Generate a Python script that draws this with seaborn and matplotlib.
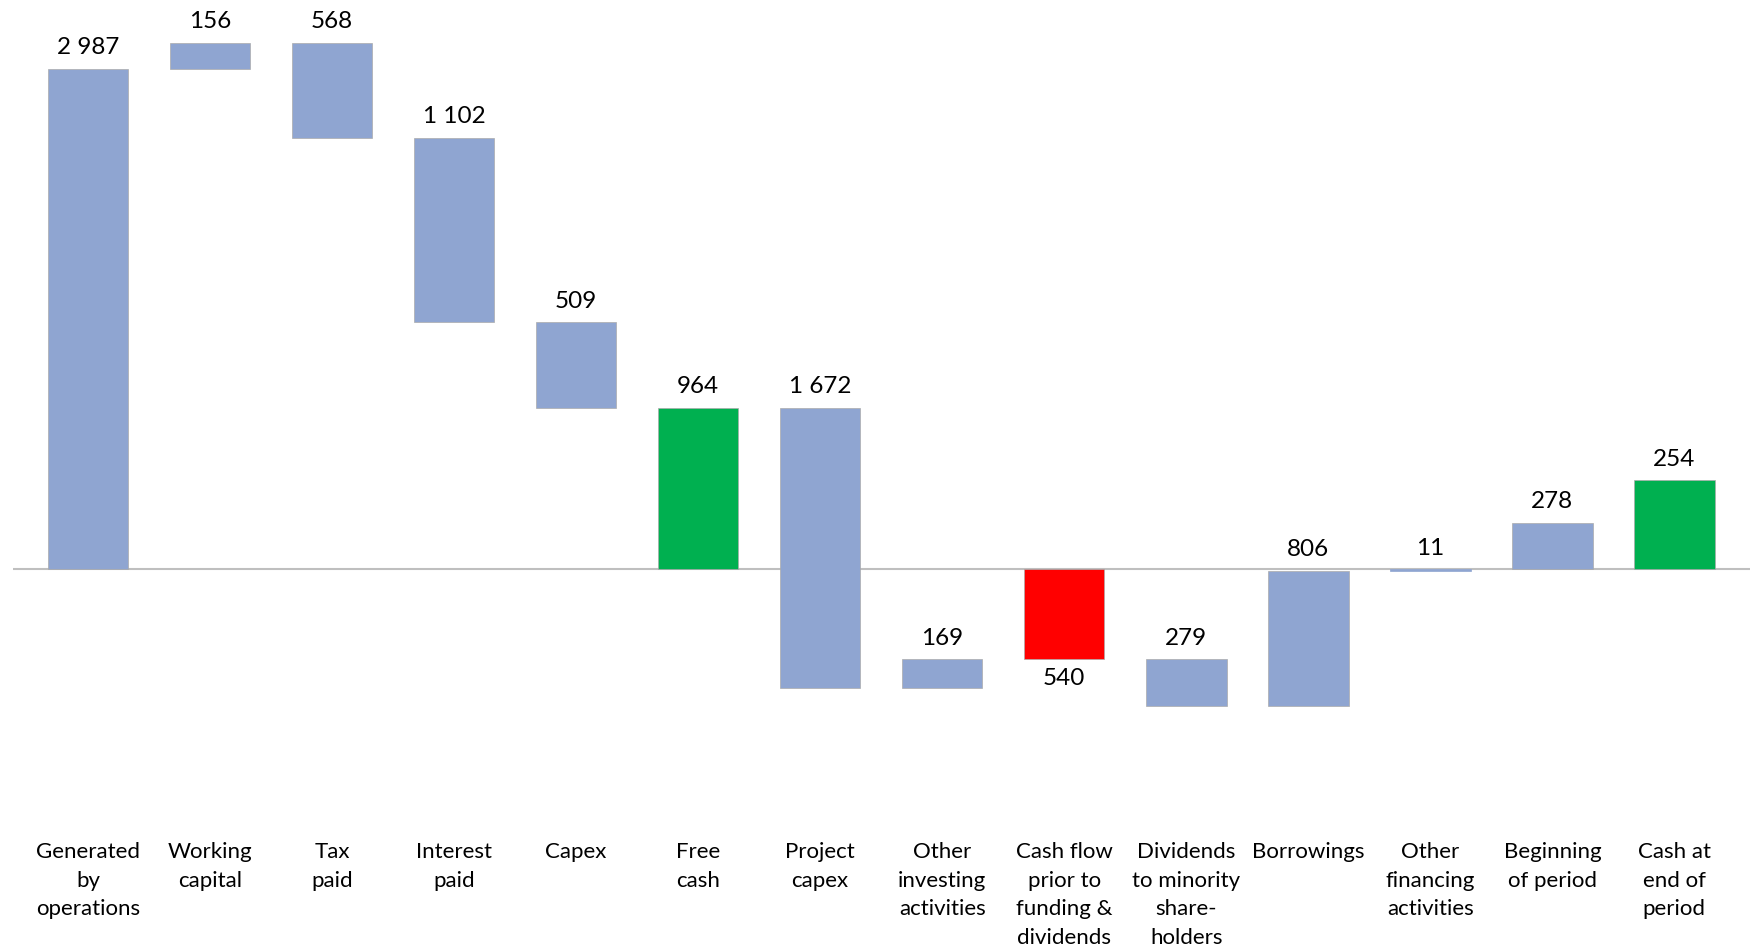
import matplotlib
matplotlib.use("Agg")
import matplotlib.pyplot as plt
import numpy as np
import pandas as pd
import seaborn as sns

# cash flow bridge, values as printed on the bars
categories = [
    "Generated\nby\noperations", "Working\ncapital", "Tax\npaid", "Interest\npaid",
    "Capex", "Free\ncash", "Project\ncapex", "Other\ninvesting\nactivities",
    "Cash flow\nprior to\nfunding &\ndividends", "Dividends\nto minority\nshare-\nholders",
    "Borrowings", "Other\nfinancing\nactivities", "Beginning\nof period", "Cash at\nend of\nperiod",
]
amounts = [2987, 156, 568, 1102, 509, 964, 1672, 169, 540, 279, 806, 11, 278, 254]
signs = [1, 1, -1, -1, -1, 0, -1, 1, 0, -1, 1, 1, 1, 1]
kinds = ["step", "step", "step", "step", "step", "total", "step", "step",
         "total", "step", "step", "step", "step", "end"]

BLUE = "#8FA5D1"
GREEN = "#00B050"
RED = "#FF0000"

bottoms, heights = [], []
running = 0
for amt, sign, kind in zip(amounts, signs, kinds):
    if kind == "step":
        bottoms.append(running)
        heights.append(sign * amt)
        running += sign * amt
    elif kind == "total":
        bottoms.append(0)
        heights.append(running)
    else:
        # closing bar is drawn from zero but stacked on the running total
        running += amt
        bottoms.append(0)
        heights.append(running)

df = pd.DataFrame({"item": categories, "height": heights})

sns.set_theme(style="white")
plt.rcParams["font.family"] = ["Lato", "DejaVu Sans"]

fig = plt.figure(figsize=(17.5, 9.49), dpi=100)
ax = fig.add_axes([13 / 1750, 129 / 949, 1737 / 1750, 820 / 949])

sns.barplot(data=df, x="item", y="height", order=categories, bottom=np.array(bottoms),
            color=BLUE, saturation=1, width=0.66, errorbar=None,
            edgecolor="#ABABAB", linewidth=0.5, ax=ax, zorder=2)

for patch, kind, h in zip(ax.patches, kinds, heights):
    if kind == "step":
        patch.set_facecolor(BLUE)
        if abs(h) < 50:
            patch.set_edgecolor(BLUE)
    elif h < 0:
        patch.set_facecolor(RED)
    else:
        patch.set_facecolor(GREEN)

ax.axhline(0, color="#BFBFBF", lw=1.5, zorder=1)

for i, (amt, kind, b, h) in enumerate(zip(amounts, kinds, bottoms, heights)):
    txt = f"{amt:,}".replace(",", " ")
    if kind == "total" and h < 0:
        ax.annotate(txt, (i, min(b, b + h)), xytext=(0, -6), textcoords="offset points",
                    ha="center", va="top", fontsize=17.5, color="black")
    else:
        ax.annotate(txt, (i, max(b, b + h)), xytext=(0, 10.5), textcoords="offset points",
                    ha="center", va="baseline", fontsize=17.5, color="black")

ax.set_xlim(-0.615, 13.62)
ax.set_ylim(-1499, 3399)
ax.set_yticks([])
ax.set_xlabel("")
ax.set_ylabel("")
ax.tick_params(axis="x", length=0, pad=16, labelsize=16, colors="black")
for lbl in ax.get_xticklabels():
    lbl.set_linespacing(1.53)
    lbl.set_multialignment("center")
sns.despine(ax=ax, left=True, bottom=True)

fig.savefig("out.png", dpi=100)
plt.close()
